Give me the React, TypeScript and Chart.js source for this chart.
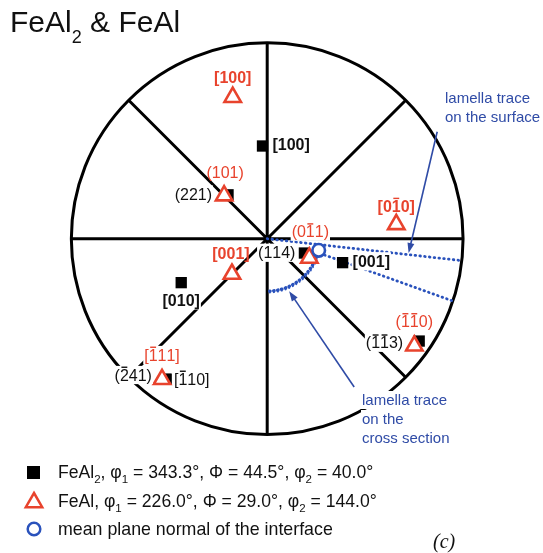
import React, { useEffect, useRef } from 'react';
import { Chart, registerables } from 'chart.js';

Chart.register(...registerables);

// ---------------- data (unit = radius of the primitive circle) ----------------
const feAl2Labels = ['[100]', '[001]', '[010]', '(221)', '(114)', '(-1-13)', '(-241)', '[-110]'];
const feAl2X = [-0.024, 0.385, -0.439, -0.2, 0.19, 0.776, -0.517, -0.517];
const feAl2Y = [0.473, -0.122, -0.224, 0.224, -0.073, -0.522, -0.717, -0.717];

const feAlLabels = ['[100]', '(101)', '[0-10]', '[001]', '(0-11)', '(-1-10)', '[-111]'];
const feAlX = [-0.176, -0.22, 0.659, -0.18, 0.215, 0.751, -0.537];
const feAlY = [0.722, 0.22, 0.073, -0.18, -0.098, -0.546, -0.717];

const normalX = [0.263];
const normalY = [-0.059];

const surfaceTraceX = [0, 0.995];
const surfaceTraceY = [0, -0.112];
const sectionTraceX = [0.293, 0.946];
const sectionTraceY = [-0.083, -0.317];

const sectionArcRadius = 0.268;
const sectionArcAngles = [-12.5, -90];
const spokeAngles = [0, 45, 90, 135, 180, 225, 270, 315];

const surfaceArrowX = [0.868, 0.722];
const surfaceArrowY = [0.546, -0.073];
const sectionArrowX = [0.444, 0.112];
const sectionArrowY = [-0.756, -0.268];

const titleParts = ['FeAl', '2', ' & FeAl'];
const legendFeAl2 = ['FeAl', '2', ', \u03c6', '1', ' = 343.3\u00b0, \u03a6 = 44.5\u00b0, \u03c6', '2', ' = 40.0\u00b0'];
const legendFeAl = ['FeAl, \u03c6', '1', ' = 226.0\u00b0, \u03a6 = 29.0\u00b0, \u03c6', '2', ' = 144.0\u00b0'];
const legendNormal = ['mean plane normal of the interface'];
const surfaceNote = ['lamella trace', 'on the surface'];
const sectionNote = ['lamella trace', 'on the', 'cross section'];
const panelLabel = '(c)';

// ---------------- style / layout ----------------
const RED = '#E8432D';
const BLUE_TXT = '#2F4BA6';
const BLUE_DOT = '#2A52BC';
const FONT = '"Liberation Sans", Arial, Helvetica, sans-serif';

type Lay = { dx: number; dy: number; align: 'left' | 'right' | 'center'; bold: boolean; bg: boolean };
const feAl2Layout: Lay[] = [
  { dx: 10, dy: 0, align: 'left', bold: true, bg: true },
  { dx: 10, dy: 0, align: 'left', bold: true, bg: true },
  { dx: 0, dy: 19, align: 'center', bold: true, bg: true },
  { dx: -16, dy: 1, align: 'right', bold: false, bg: true },
  { dx: -9, dy: 1, align: 'right', bold: false, bg: true },
  { dx: -16, dy: 3, align: 'right', bold: false, bg: true },
  { dx: -14, dy: -3, align: 'right', bold: false, bg: true },
  { dx: 8, dy: 1, align: 'left', bold: false, bg: true },
];
const feAlLayout: Lay[] = [
  { dx: 0, dy: -19, align: 'center', bold: true, bg: false },
  { dx: 1, dy: -22, align: 'center', bold: false, bg: false },
  { dx: 0, dy: -17, align: 'center', bold: true, bg: false },
  { dx: -1, dy: -19, align: 'center', bold: true, bg: false },
  { dx: 1, dy: -25, align: 'center', bold: false, bg: true },
  { dx: 0, dy: -23, align: 'center', bold: false, bg: false },
  { dx: 0, dy: -23, align: 'center', bold: false, bg: true },
];

function parseBars(s: string) {
  const out: { ch: string; bar: boolean }[] = [];
  for (let i = 0; i < s.length; i++) {
    if (s[i] === '-' && i + 1 < s.length) {
      out.push({ ch: s[i + 1], bar: true });
      i++;
    } else out.push({ ch: s[i], bar: false });
  }
  return out;
}

function drawLabel(
  ctx: CanvasRenderingContext2D,
  text: string,
  x: number,
  yc: number,
  align: string,
  size: number,
  bold: boolean,
  color: string,
  bg: boolean
) {
  ctx.font = `${bold ? 'bold ' : ''}${size}px ${FONT}`;
  const parts = parseBars(text);
  const widths = parts.map((p) => ctx.measureText(p.ch).width);
  const w = widths.reduce((a, b) => a + b, 0);
  const left = align === 'left' ? x : align === 'right' ? x - w : x - w / 2;
  const base = yc + size * 0.27;
  if (bg) {
    ctx.fillStyle = '#fff';
    ctx.fillRect(left - 1, base - size * 0.92, w + 2, size * 1.14);
  }
  ctx.fillStyle = color;
  ctx.textAlign = 'left';
  ctx.textBaseline = 'alphabetic';
  let cx = left;
  parts.forEach((p, i) => {
    ctx.fillText(p.ch, cx, base);
    if (p.bar) ctx.fillRect(cx + 1.5, base - size * 0.716 - 2.6, widths[i] - 3, 1.4);
    cx += widths[i];
  });
}

function drawRich(
  ctx: CanvasRenderingContext2D,
  parts: string[],
  x: number,
  base: number,
  size: number,
  subSize: number,
  subDrop: number,
  color: string
) {
  ctx.fillStyle = color;
  ctx.textAlign = 'left';
  ctx.textBaseline = 'alphabetic';
  let cx = x;
  parts.forEach((t, i) => {
    const sub = i % 2 === 1;
    ctx.font = `${sub ? subSize : size}px ${FONT}`;
    ctx.fillText(t, cx, base + (sub ? subDrop : 0));
    cx += ctx.measureText(t).width;
  });
}

function arrow(ctx: CanvasRenderingContext2D, x1: number, y1: number, x2: number, y2: number, color: string) {
  const ang = Math.atan2(y2 - y1, x2 - x1);
  const L = 10;
  const H = 3.5;
  ctx.strokeStyle = color;
  ctx.fillStyle = color;
  ctx.lineWidth = 1.6;
  ctx.beginPath();
  ctx.moveTo(x1, y1);
  ctx.lineTo(x2 - Math.cos(ang) * L * 0.8, y2 - Math.sin(ang) * L * 0.8);
  ctx.stroke();
  ctx.beginPath();
  ctx.moveTo(x2, y2);
  ctx.lineTo(x2 - Math.cos(ang) * L - Math.sin(ang) * H, y2 - Math.sin(ang) * L + Math.cos(ang) * H);
  ctx.lineTo(x2 - Math.cos(ang) * L + Math.sin(ang) * H, y2 - Math.sin(ang) * L - Math.cos(ang) * H);
  ctx.closePath();
  ctx.fill();
}

const polePlugin = {
  id: 'polefigure',
  beforeDatasetsDraw(chart: any) {
    const ctx: CanvasRenderingContext2D = chart.ctx;
    const xs = chart.scales.x;
    const ys = chart.scales.y;
    const cx = xs.getPixelForValue(0);
    const cy = ys.getPixelForValue(0);
    const r = xs.getPixelForValue(1) - cx;
    ctx.save();
    ctx.strokeStyle = '#000';
    ctx.lineWidth = 3;
    ctx.beginPath();
    for (const a of spokeAngles) {
      const t = (a * Math.PI) / 180;
      ctx.moveTo(cx, cy);
      ctx.lineTo(cx + r * Math.cos(t), cy - r * Math.sin(t));
    }
    ctx.stroke();
    ctx.beginPath();
    ctx.arc(cx, cy, r, 0, Math.PI * 2);
    ctx.stroke();
    const ar = xs.getPixelForValue(sectionArcRadius) - cx;
    ctx.strokeStyle = BLUE_DOT;
    ctx.lineWidth = 3.4;
    ctx.lineCap = 'round';
    ctx.setLineDash([0.4, 3.6]);
    ctx.beginPath();
    ctx.arc(cx, cy, ar, (-sectionArcAngles[0] * Math.PI) / 180, (-sectionArcAngles[1] * Math.PI) / 180);
    ctx.stroke();
    ctx.lineWidth = 1.6;
    ctx.setLineDash([0.4, 3.6]);
    ctx.lineDashOffset = 2;
    ctx.beginPath();
    ctx.arc(cx, cy, ar + 1.5, (-sectionArcAngles[0] * Math.PI) / 180, (-sectionArcAngles[1] * Math.PI) / 180);
    ctx.stroke();
    ctx.restore();
  },
  afterDatasetsDraw(chart: any) {
    const ctx: CanvasRenderingContext2D = chart.ctx;
    const xs = chart.scales.x;
    const ys = chart.scales.y;
    ctx.save();
    arrow(ctx, xs.getPixelForValue(surfaceArrowX[0]), ys.getPixelForValue(surfaceArrowY[0]),
      xs.getPixelForValue(surfaceArrowX[1]), ys.getPixelForValue(surfaceArrowY[1]), BLUE_TXT);
    arrow(ctx, xs.getPixelForValue(sectionArrowX[0]), ys.getPixelForValue(sectionArrowY[0]),
      xs.getPixelForValue(sectionArrowX[1]), ys.getPixelForValue(sectionArrowY[1]), BLUE_TXT);
    feAl2Labels.forEach((t, i) => {
      const L = feAl2Layout[i];
      drawLabel(ctx, t, xs.getPixelForValue(feAl2X[i]) + L.dx, ys.getPixelForValue(feAl2Y[i]) + L.dy, L.align, 16, L.bold, '#111', L.bg);
    });
    feAlLabels.forEach((t, i) => {
      const L = feAlLayout[i];
      drawLabel(ctx, t, xs.getPixelForValue(feAlX[i]) + L.dx, ys.getPixelForValue(feAlY[i]) + L.dy, L.align, 16, L.bold, RED, L.bg);
    });
    ctx.font = `15px ${FONT}`;
    ctx.textAlign = 'left';
    ctx.textBaseline = 'alphabetic';
    surfaceNote.forEach((t, i) => {
      ctx.fillStyle = BLUE_TXT;
      ctx.fillText(t, 445, 103 + i * 19);
    });
    sectionNote.forEach((t, i) => {
      const w = ctx.measureText(t).width;
      ctx.fillStyle = '#fff';
      ctx.fillRect(361, 391 + i * 19, w + 3, 18);
      ctx.fillStyle = BLUE_TXT;
      ctx.fillText(t, 362, 405 + i * 19);
    });
    drawRich(ctx, titleParts, 10, 32, 30, 18, 11, '#111');
    ctx.fillStyle = '#000';
    ctx.fillRect(27, 466, 13, 13);
    ctx.strokeStyle = RED;
    ctx.lineWidth = 2.5;
    ctx.fillStyle = '#fff';
    ctx.beginPath();
    ctx.moveTo(34, 493);
    ctx.lineTo(34 + 8.2, 507.2);
    ctx.lineTo(34 - 8.2, 507.2);
    ctx.closePath();
    ctx.fill();
    ctx.stroke();
    ctx.strokeStyle = BLUE_DOT;
    ctx.beginPath();
    ctx.arc(34, 529, 6.3, 0, Math.PI * 2);
    ctx.stroke();
    drawRich(ctx, legendFeAl2, 58, 478, 17.6, 11.5, 5, '#111');
    drawRich(ctx, legendFeAl, 58, 506.5, 17.6, 11.5, 5, '#111');
    drawRich(ctx, legendNormal, 58, 535, 17.8, 11.5, 5, '#111');
    ctx.font = `italic 20px "Liberation Serif", "Times New Roman", serif`;
    ctx.fillStyle = '#111';
    ctx.fillText(panelLabel, 433, 548);
    ctx.restore();
  },
};

export default function App() {
  const ref = useRef<HTMLCanvasElement | null>(null);
  useEffect(() => {
    if (!ref.current) return;
    const pts = (xs: number[], ys: number[]) => xs.map((x, i) => ({ x, y: ys[i] }));
    const chart = new Chart(ref.current, {
      type: 'scatter',
      data: {
        datasets: [
          {
            label: 'FeAl',
            data: pts(feAlX, feAlY),
            pointStyle: 'triangle',
            pointRadius: 9.5,
            pointBackgroundColor: '#fff',
            pointBorderColor: RED,
            pointBorderWidth: 2.6,
            order: 1,
          },
          {
            label: 'FeAl2',
            data: pts(feAl2X, feAl2Y),
            pointStyle: 'rect',
            pointRadius: 8,
            pointBackgroundColor: '#000',
            pointBorderColor: '#000',
            pointBorderWidth: 0,
            order: 2,
          },
          {
            label: 'mean plane normal of the interface',
            data: pts(normalX, normalY),
            pointStyle: 'circle',
            pointRadius: 6.3,
            pointBackgroundColor: '#fff',
            pointBorderColor: BLUE_DOT,
            pointBorderWidth: 2.6,
            order: 0,
          },
          {
            label: 'lamella trace on the surface',
            data: pts(surfaceTraceX, surfaceTraceY),
            showLine: true,
            pointRadius: 0,
            borderColor: BLUE_DOT,
            borderWidth: 2.8,
            borderDash: [0.6, 4.2],
            borderCapStyle: 'round',
            order: 5,
          },
          {
            label: 'lamella trace on the cross section',
            data: pts(sectionTraceX, sectionTraceY),
            showLine: true,
            pointRadius: 0,
            borderColor: BLUE_DOT,
            borderWidth: 2.8,
            borderDash: [0.6, 4.2],
            borderCapStyle: 'round',
            order: 5,
          },
        ],
      } as any,
      options: {
        responsive: false,
        maintainAspectRatio: false,
        animation: false,
        events: [],
        layout: { padding: 0 },
        plugins: { legend: { display: false }, title: { display: false }, tooltip: { enabled: false } },
        scales: {
          x: { type: 'linear', min: -267 / 205, max: 276 / 205, display: false },
          y: { type: 'linear', min: -316 / 205, max: 237 / 205, display: false },
        },
      } as any,
      plugins: [polePlugin],
    });
    return () => chart.destroy();
  }, []);
  return (
    <div style={{ position: 'absolute', left: 0, top: 0, width: 543, height: 553, background: '#fff' }}>
      <canvas ref={ref} width={543} height={553} style={{ display: 'block' }} />
    </div>
  );
}
